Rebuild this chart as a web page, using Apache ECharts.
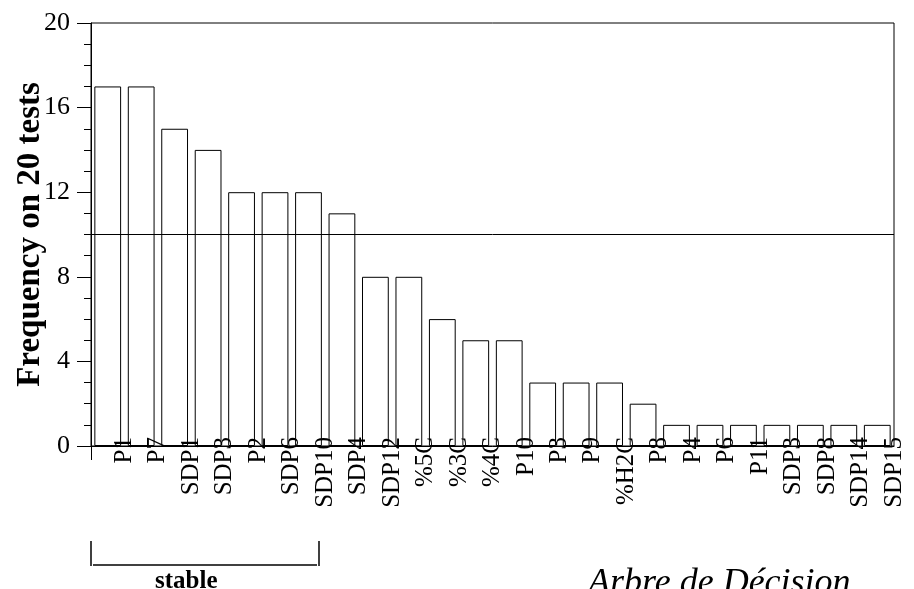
<!DOCTYPE html>
<html>
<head>
<meta charset="utf-8">
<script src="https://cdn.jsdelivr.net/npm/echarts@6/dist/echarts.min.js"></script>
<style>
html,body{margin:0;padding:0;background:#fff;}
#chart{width:914px;height:589px;}
</style>
</head>
<body>
<div id="chart"></div>
<script>
var categories = ['P1','P7','SDP1','SDP3','P2','SDP6','SDP10','SDP4','SDP12','%5C','%3C','%4C','P10','P3','P9','%H2C','P8','P4','P6','P11','SDP3','SDP8','SDP14','SDP15'];
var frequency = [17,17,15,14,12,12,12,11,8,8,6,5,5,3,3,3,2,1,1,1,1,1,1,1];
var yTicks = [0,4,8,12,16,20];
var threshold = 10;
var yTitle = 'Frequency on 20 tests';
var groupLabel = 'stable';
var methodLabel = 'Arbre de Décision';

var labelSlots = [''].concat(categories);
var serif = '"Liberation Serif", "DejaVu Serif", serif';

var chart = echarts.init(document.getElementById('chart'));
chart.setOption({
  animation: false,
  backgroundColor: '#fff',
  grid: {left: 91, right: 20, top: 23, bottom: 143, show: true, borderColor: '#000', borderWidth: 1,
         backgroundColor: 'transparent', containLabel: false, outerBoundsMode: 'none'},
  xAxis: [
    {
      type: 'category', data: categories, boundaryGap: true,
      axisLine: {show: true, lineStyle: {color: '#000', width: 1}},
      axisTick: {show: false}, axisLabel: {show: false}, splitLine: {show: false}
    },
    {
      type: 'category', data: labelSlots, boundaryGap: false, position: 'bottom', z: 10,
      axisLine: {show: false},
      axisTick: {show: true, length: 14, interval: function (i) { return i === 0; }, lineStyle: {color: '#000'}},
      axisLabel: {interval: 0, rotate: 90, margin: -9, fontSize: 25, fontFamily: serif, color: '#000'},
      splitLine: {show: false}
    }
  ],
  yAxis: {
    type: 'value', min: yTicks[0], max: yTicks[yTicks.length - 1], interval: 4,
    name: yTitle, nameLocation: 'middle', nameGap: 44, nameMoveOverlap: false,
    nameTextStyle: {fontSize: 33, fontWeight: 'bold', fontFamily: serif, color: '#000'},
    axisLine: {show: true, lineStyle: {color: '#000', width: 1}},
    axisTick: {show: true, length: 14, lineStyle: {color: '#000'}},
    minorTick: {show: true, splitNumber: 4, length: 7, lineStyle: {color: '#000'}},
    axisLabel: {fontSize: 26, fontFamily: serif, color: '#000', margin: 21},
    splitLine: {show: false}
  },
  series: [{
    type: 'bar', xAxisIndex: 0, data: frequency, barCategoryGap: '20%',
    itemStyle: {color: '#fff', borderColor: '#000', borderWidth: 1},
    markLine: {
      silent: true, symbol: 'none', label: {show: false},
      lineStyle: {color: '#000', width: 1, type: 'solid'},
      data: [{yAxis: threshold}]
    }
  }],
  graphic: [
    {type: 'line', shape: {x1: 91, y1: 541, x2: 91, y2: 566}, style: {stroke: '#000', lineWidth: 1.5}},
    {type: 'line', shape: {x1: 319, y1: 541, x2: 319, y2: 566}, style: {stroke: '#000', lineWidth: 1.5}},
    {type: 'line', shape: {x1: 93, y1: 565, x2: 317, y2: 565}, style: {stroke: '#000', lineWidth: 1.5}},
    {type: 'text', left: 155, top: 569, style: {text: groupLabel, font: 'bold 25px ' + serif, fill: '#000'}},
    {type: 'text', left: 588, top: 566, style: {text: methodLabel, font: 'italic 36px ' + serif, fill: '#000'}}
  ]
});
</script>
</body>
</html>
